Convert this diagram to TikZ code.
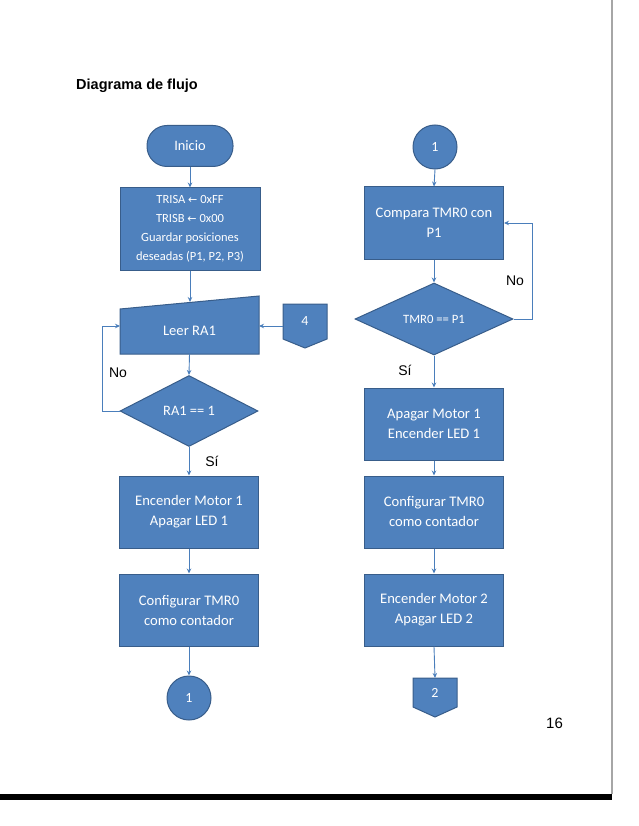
\documentclass[tikz,border=0pt]{standalone}
\usepackage{fontspec}
\setmainfont{Liberation Sans}
\newfontfamily\calfont{Carlito}
\newfontfamily\dvfont{DejaVu Sans}
\usetikzlibrary{shapes.geometric,arrows.meta}
\definecolor{boxc}{HTML}{4F81BD}
\definecolor{bordc}{HTML}{385D8A}
\definecolor{arrc}{HTML}{4A7EBB}
\tikzset{
  proc/.style={draw=bordc, fill=boxc, line width=1pt, minimum width=139pt, minimum height=72pt,
    text=white, font=\calfont\fontsize{14.6}{20}\selectfont, align=center, inner sep=0pt},
  shp/.style={draw=bordc, fill=boxc, line width=1pt},
  dia/.style={diamond, draw=bordc, fill=boxc, line width=1pt, text=white, inner sep=0pt,
    font=\calfont\fontsize{14.4}{16}\selectfont},
  conn/.style={circle, draw=bordc, fill=boxc, line width=1pt, minimum size=44pt, inner sep=0pt,
    text=white, font=\calfont\fontsize{14}{16}\selectfont},
  plain/.style={text=white, font=\calfont\fontsize{14}{16}\selectfont, inner sep=0pt},
  arr/.style={draw=arrc, line width=0.9pt, -{Stealth[length=5pt,width=4.5pt]}},
  lbl/.style={font=\fontsize{14}{16}\selectfont, inner sep=0pt}
}
\begin{document}
\begin{tikzpicture}[x=1pt,y=-1pt]
\useasboundingbox (0,0) rectangle (638,826);
% page frame
\fill[gray!70] (611,0) rectangle (613,794);
\fill[black] (0,794) rectangle (612,800);
% title and page number
\node[anchor=west, font=\bfseries\fontsize{14.5}{16}\selectfont, inner sep=0pt] (title) at (76,86) {Diagrama de flujo};
\node[font=\fontsize{15}{17}\selectfont, inner sep=0pt] (pnum) at (554.5,723) {16};

% ---------- left column ----------
\node[draw=bordc, fill=boxc, line width=1pt, rounded corners=20pt, minimum width=86pt, minimum height=41pt,
  text=white, font=\calfont\fontsize{14.4}{16}\selectfont, inner sep=0pt] (inicio) at (190,146) {Inicio};
\node[proc, minimum width=140pt, minimum height=82pt, font=\calfont\fontsize{12.5}{19}\selectfont] (b1) at (190,229)
  {TRISA {\dvfont\fontsize{11}{10}\selectfont ←} 0xFF\\TRISB {\dvfont\fontsize{11}{10}\selectfont ←} 0x00\\Guardar posiciones\\deseadas (P1, P2, P3)};
% manual input
\draw[shp] (120,309) -- (259,296) -- (259,354) -- (120,354) -- cycle;
\node[plain, minimum width=139pt, minimum height=45pt, font=\calfont\fontsize{14.6}{17}\selectfont] (leer) at (189.5,331) {Leer RA1};
\coordinate (leerT) at (190,302);
\coordinate (leerE) at (259,326);
\coordinate (leerW) at (120,326);
% off-page connector 4
\draw[shp] (283,304) -- (327,304) -- (327,339) -- (305,348) -- (283,339) -- cycle;
\node[plain] (four) at (305,321) {4};
\coordinate (fourW) at (283,326);
% decision
\node[dia, minimum width=138pt, minimum height=71pt] (d1) at (189,411) {RA1 == 1};
\node[proc] (b2) at (189,512) {Encender Motor 1\\Apagar LED 1};
\node[proc] (b3) at (189,610) {Configurar TMR0\\como contador};
\node[conn] (c1) at (189,698) {1};

\draw[arr] (inicio.south) -- (b1.north);
\draw[arr] (b1.south) -- (leerT);
\draw[arr] (fourW) -- (leerE);
\draw[arr] (leer.south) -- (d1.north);
\draw[arr] (d1.west) -- ++(-17,0) |- (leerW);
\draw[arr] (d1.south) -- (b2.north);
\draw[arr] (b2.south) -- (b3.north);
\draw[arr] (b3.south) -- (c1.north);
\node[lbl] (noL) at (118,373) {No};
\node[lbl] (siL) at (212,461) {Sí};

% ---------- right column ----------
\node[conn] (c2) at (435,147) {1};
\node[proc] (r1) at (434,223) {Compara TMR0 con\\P1};
\node[dia, minimum width=158pt, minimum height=72pt, font=\calfont\fontsize{12.7}{14}\selectfont] (d2) at (434,319) {TMR0 == P1};
\node[proc] (r2) at (434,424) {Apagar Motor 1\\Encender LED 1};
\node[proc] (r3) at (434,512) {Configurar TMR0\\como contador};
\node[proc] (r4) at (434,610) {Encender Motor 2\\Apagar LED 2};
\draw[shp] (413,678) -- (457,678) -- (457,707) -- (435,717) -- (413,707) -- cycle;
\node[plain] (two) at (435,693) {2};
\coordinate (twoT) at (435,678);

\draw[arr] (c2.south) -- (r1.north);
\draw[arr] (r1.south) -- (d2.north);
\draw[arr] (d2.east) -- ++(19,0) |- (r1.east);
\draw[arr] (d2.south) -- (r2.north);
\draw[arr] (r2.south) -- (r3.north);
\draw[arr] (r3.south) -- (r4.north);
\draw[arr] (r4.south) -- (twoT);
\node[lbl] (noR) at (515,281) {No};
\node[lbl] (siR) at (405,370) {Sí};
\end{tikzpicture}
\end{document}
